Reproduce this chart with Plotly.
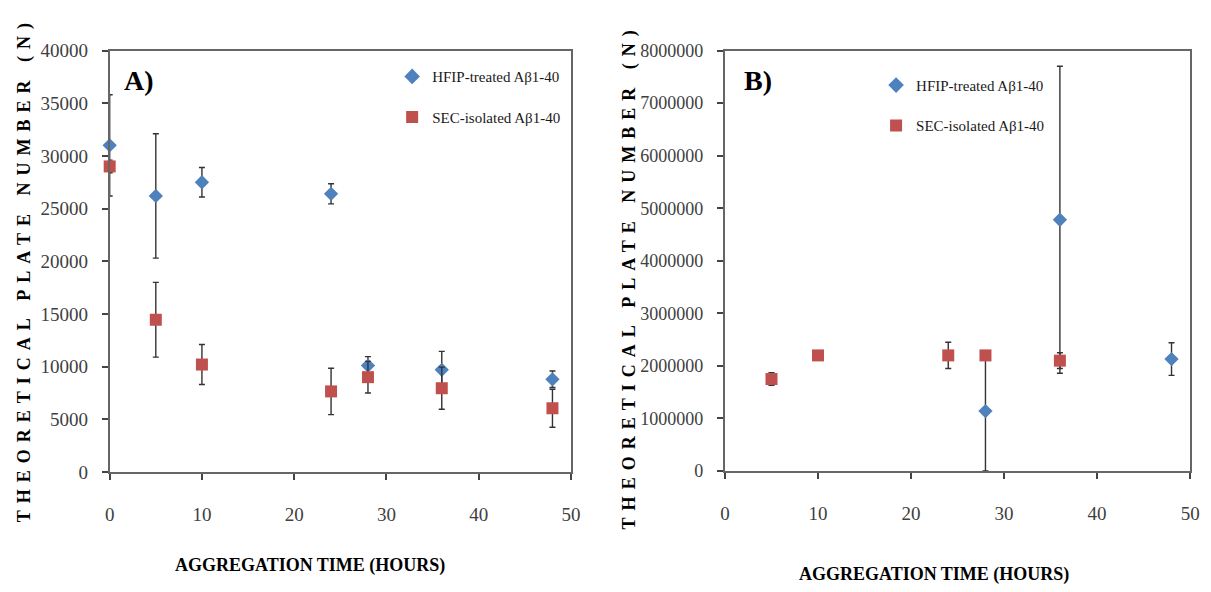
import plotly.graph_objects as go

# ---- Panel A: theoretical plate number (N) vs aggregation time ----
a_hfip_time = [0, 5, 10, 24, 28, 36, 48]
a_hfip_n = [31000, 26200, 27500, 26400, 10100, 9700, 8800]
a_hfip_err = [4800, 5900, 1400, 950, 850, 1750, 780]

a_sec_time = [0, 5, 10, 24, 28, 36, 48]
a_sec_n = [29000, 14450, 10200, 7650, 9000, 7950, 6050]
a_sec_err = [600, 3550, 1900, 2200, 1500, 2000, 1800]

# ---- Panel B ----
b_hfip_time = [28, 36, 48]
b_hfip_n = [1140000, 4780000, 2130000]
b_hfip_err = [1140000, 2920000, 310000]

b_sec_time = [5, 10, 24, 28, 36]
b_sec_n = [1750000, 2200000, 2200000, 2200000, 2100000]
b_sec_err = [120000, 80000, 250000, 80000, 150000]

HFIP_LABEL = "HFIP-treated Aβ1-40"
SEC_LABEL = "SEC-isolated Aβ1-40"

BLUE = "#4F81BD"
RED = "#C0504D"
W, H = 1211, 592
SERIF = "Liberation Serif, Times New Roman, serif"


def px_x(p):
    return p / W


def px_y(p):
    return 1 - p / H


def err(vals):
    return dict(type="data", array=vals, visible=True, color="#333333",
                thickness=1.4, width=3)


fig = go.Figure()

fig.add_trace(go.Scatter(
    x=a_hfip_time, y=a_hfip_n, error_y=err(a_hfip_err), mode="markers",
    marker=dict(symbol="diamond", size=11, color=BLUE), name=HFIP_LABEL,
    xaxis="x", yaxis="y", legend="legend", legendgroup="a1", cliponaxis=False))
fig.add_trace(go.Scatter(
    x=a_sec_time, y=a_sec_n, error_y=err(a_sec_err), mode="markers",
    marker=dict(symbol="square", size=12, color=RED), name=SEC_LABEL,
    xaxis="x", yaxis="y", legend="legend", legendgroup="a2", cliponaxis=False))

fig.add_trace(go.Scatter(
    x=b_hfip_time, y=b_hfip_n, error_y=err(b_hfip_err), mode="markers",
    marker=dict(symbol="diamond", size=11, color=BLUE), name=HFIP_LABEL,
    xaxis="x2", yaxis="y2", legend="legend2", legendgroup="b1", cliponaxis=False))
fig.add_trace(go.Scatter(
    x=b_sec_time, y=b_sec_n, error_y=err(b_sec_err), mode="markers",
    marker=dict(symbol="square", size=12, color=RED), name=SEC_LABEL,
    xaxis="x2", yaxis="y2", legend="legend2", legendgroup="b2", cliponaxis=False))

axis_common = dict(
    showline=True, mirror=True, linecolor="#666666", linewidth=2,
    ticks="outside", ticklen=6, tickcolor="#444444", tickwidth=1.5,
    showgrid=False, zeroline=False,
    tickfont=dict(family=SERIF, size=19, color="#404040"),
)

fig.update_layout(
    width=W, height=H,
    margin=dict(l=0, r=0, t=0, b=0),
    paper_bgcolor="white", plot_bgcolor="white",
    showlegend=True,
    xaxis=dict(domain=[px_x(106), px_x(573)], range=[0, 50], dtick=10,
               anchor="y", ticklabelstandoff=18, **axis_common),
    yaxis=dict(domain=[px_y(479), px_y(42)], range=[0, 40000], dtick=5000,
               anchor="x", tickformat="d", ticklabelstandoff=10, **axis_common),
    xaxis2=dict(domain=[px_x(729), px_x(1200)], range=[0, 50], dtick=10,
                anchor="y2", ticklabelstandoff=18, **axis_common),
    yaxis2=dict(domain=[px_y(478), px_y(42)], range=[0, 8000000], dtick=1000000,
                anchor="x2", tickformat="d", ticklabelstandoff=10, **axis_common),
    legend=dict(x=px_x(392), y=px_y(52), xanchor="left", yanchor="top",
                bgcolor="rgba(0,0,0,0)", tracegroupgap=18, traceorder="grouped",
                itemsizing="constant",
                font=dict(family=SERIF, size=15, color="#1a1a1a")),
    legend2=dict(x=px_x(882), y=px_y(61), xanchor="left", yanchor="top",
                 bgcolor="rgba(0,0,0,0)", tracegroupgap=18, traceorder="grouped",
                 itemsizing="constant",
                 font=dict(family=SERIF, size=15, color="#1a1a1a")),
)
fig.update_yaxes(tickfont=dict(size=18), selector=dict(anchor="x2"))

ann_font_title = dict(family=SERIF, size=18, color="#000000", weight="bold")
annotations = [
    dict(text="A)", x=px_x(136), y=px_y(73), font=dict(family=SERIF, size=28, color="#000", weight="bold")),
    dict(text="B)", x=px_x(762), y=px_y(73), font=dict(family=SERIF, size=28, color="#000", weight="bold")),
    dict(text="AGGREGATION TIME (HOURS)", x=px_x(309), y=px_y(576), font=ann_font_title),
    dict(text="AGGREGATION TIME (HOURS)", x=px_x(941), y=px_y(585), font=ann_font_title),
    dict(text="THEORETICAL PLATE NUMBER (N)", x=px_x(20), y=px_y(269), textangle=-90, font=ann_font_title),
    dict(text="THEORETICAL PLATE NUMBER (N)", x=px_x(632), y=px_y(276), textangle=-90, font=ann_font_title),
]
for a in annotations:
    a.update(xref="paper", yref="paper", showarrow=False, xanchor="center", yanchor="middle")
fig.update_layout(annotations=annotations)

# widen the letter spacing of the rotated y-axis titles
spacing_js = """
var gd = document.getElementById('{plot_id}');
function spaceTitles() {
  gd.querySelectorAll('.annotation-text').forEach(function (t) {
    if (t.textContent.indexOf('THEORETICAL') === 0) {
      t.style.letterSpacing = '7px';
    }
  });
}
spaceTitles();
gd.on('plotly_afterplot', spaceTitles);
"""

fig.write_html("out.html", post_script=spacing_js)
